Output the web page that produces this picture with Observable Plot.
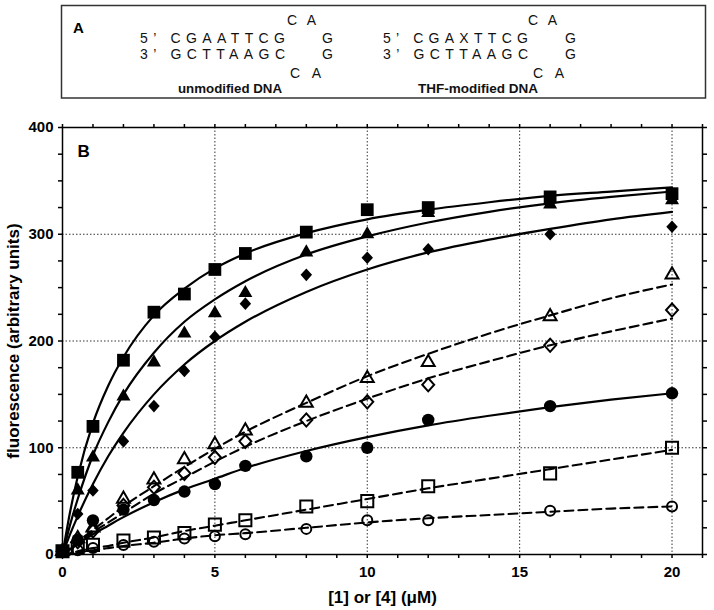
<!DOCTYPE html>
<html>
<head>
<meta charset="utf-8">
<script src="https://cdn.jsdelivr.net/npm/d3@7"></script>
<script src="https://cdn.jsdelivr.net/npm/@observablehq/plot@0.6"></script>
<style>
  html, body { margin: 0; padding: 0; background: #fff; }
  #wrap { position: relative; width: 714px; height: 610px; }
  #panelA { position: absolute; left: 0; top: 0; }
  #chart { position: absolute; left: 0; top: 0; }
</style>
</head>
<body>
<div id="wrap"><div id="chart"></div><svg id="panelA" width="714" height="105"></svg></div>
<script>
// ---- Measured data points (x in µM) ----
const xs = [0, 0.5, 1, 2, 3, 4, 5, 6, 8, 10, 12, 16, 20];
const filledSquare   = [3, 77, 120, 182, 227, 244, 267, 282, 302, 323, 325, 335, 338];
const filledTriangle = [3, 60, 91, 148, 180, 207, 226, 245, 283, 300, 320, 328, 332];
const filledDiamond  = [3, 38, 60, 106, 139, 172, 204, 235, 262, 278, 286, 300, 307];
const filledCircle   = [3, 14, 32, 42, 51, 59, 66, 83, 92, 100, 126, 139, 151];
const openTriangle   = [3, 15, 25, 52, 70, 89, 103, 116, 142, 165, 180, 223, 262];
const openDiamond    = [3, 12, 22, 46, 63, 76, 91, 106, 126, 143, 159, 196, 229];
const openSquare     = [3, 6, 9, 13, 16, 20, 28, 32, 45, 50, 64, 76, 100];
const openCircle     = [3, 4, 6, 9, 12, 15, 17, 19, 24, 32, 32, 41, 45];

// ---- Fitted curves ----
const fitX = [0, 0.25, 0.5, 1, 1.5, 2, 3, 4, 5, 6, 8, 10, 12, 14, 16, 18, 20];
const fitFilledSquare   = [0, 40, 73, 123, 158, 185, 224, 249, 268, 282, 301, 314, 323, 330, 336, 340, 344];
const fitFilledTriangle = [0, 28, 52, 93, 124, 150, 189, 218, 239, 256, 281, 298, 311, 321, 329, 335, 340];
const fitFilledDiamond  = [0, 19, 36, 66, 92, 114, 150, 178, 200, 218, 246, 267, 283, 295, 305, 314, 321];
const fitFilledCircle   = [0, 5, 10, 19, 27, 35, 49, 61, 71, 81, 97, 110, 121, 130, 138, 145, 151];
const fitOpenTriangle   = [0, 6, 12, 23, 34, 45, 64, 82, 99, 115, 142, 167, 188, 207, 224, 240, 253];
const fitOpenDiamond    = [0, 5, 11, 21, 30, 39, 57, 72, 87, 101, 125, 146, 165, 181, 196, 209, 221];
const fitOpenSquare     = [0, 1, 3, 6, 8, 11, 16, 22, 27, 32, 42, 52, 62, 71, 80, 89, 98];
const fitOpenCircle     = [0, 1, 2, 4, 6, 8, 11, 15, 18, 20, 25, 30, 34, 37, 40, 43, 45];

// ---- Ticks ----
const xMinorTicks = d3.range(0, 22, 1);
const xLabelTicks = [0, 5, 10, 15, 20];
const yMinorTicks = d3.range(0, 401, 25);
const yLabelTicks = [0, 100, 200, 300, 400];
const xGrid = [5, 10, 15, 20];
const yGrid = [100, 200, 300];

const xTitle = "[1] or [4] (\u03BCM)";
const yTitle = "fluorescence (arbitrary units)";
const panelLabel = "B";

// ---- Panel A texts ----
const seqTop5 = ["5\u2019 CGAATTCG", "5\u2019 CGAXTTCG"];
const seqBot3 = ["3\u2019 GCTTAAGC", "3\u2019 GCTTAAGC"];
const loopTop = ["C A", "C A"];
const loopBot = ["C A", "C A"];
const loopG = ["G", "G"];
const dnaNames = ["unmodified DNA", "THF-modified DNA"];

// ---- Build tidy tables ----
const pts = (vals, s) => xs.map((x, i) => ({x, y: vals[i], s}));
const fit = (vals, s) => fitX.map((x, i) => ({x, y: vals[i], s}));

const solidFits = [
  ...fit(fitFilledSquare, "fs"), ...fit(fitFilledTriangle, "ft"),
  ...fit(fitFilledDiamond, "fd"), ...fit(fitFilledCircle, "fc")
];
const dashedFits = [
  ...fit(fitOpenTriangle, "ot"), ...fit(fitOpenDiamond, "od"),
  ...fit(fitOpenSquare, "os"), ...fit(fitOpenCircle, "oc")
];

const diamond = {
  draw(ctx, size) {
    const a = Math.sqrt(size / 2.2), b = 1.1 * a;
    ctx.moveTo(0, -b); ctx.lineTo(a, 0); ctx.lineTo(0, b); ctx.lineTo(-a, 0); ctx.closePath();
  }
};

const filledOpts = {x: "x", y: "y", fill: "black", stroke: "none"};
const openOpts = {x: "x", y: "y", fill: "none", stroke: "black", strokeWidth: 2};

const chart = Plot.plot({
  width: 714,
  height: 610,
  marginTop: 127,
  marginLeft: 62,
  marginRight: 12,
  marginBottom: 56,
  style: {fontFamily: "'Liberation Sans', Arial, sans-serif", fontSize: "15px", fontWeight: "bold", color: "black", background: "white"},
  x: {domain: [0, 21]},
  y: {domain: [0, 400]},
  marks: [
    Plot.ruleX(xGrid, {stroke: "#333", strokeWidth: 1, strokeDasharray: "1.5,2"}),
    Plot.ruleY(yGrid, {stroke: "#333", strokeWidth: 1, strokeDasharray: "1.5,2"}),
    Plot.axisX(xMinorTicks, {anchor: "bottom", tickSize: 4, tickPadding: 8, strokeWidth: 1.5, label: null,
      tickFormat: d => xLabelTicks.includes(d) ? String(d) : ""}),
    Plot.axisX(xMinorTicks, {anchor: "top", tickSize: 4, strokeWidth: 1.5, label: null, tickFormat: () => ""}),
    Plot.axisY(yMinorTicks, {anchor: "left", tickSize: 4, tickPadding: 5, strokeWidth: 1.5, label: null,
      tickFormat: d => yLabelTicks.includes(d) ? String(d) : ""}),
    Plot.axisY(yMinorTicks, {anchor: "right", tickSize: 4, strokeWidth: 1.5, label: null, tickFormat: () => ""}),
    Plot.frame({stroke: "black", strokeWidth: 1.5}),
    Plot.line(solidFits, {x: "x", y: "y", z: "s", stroke: "black", strokeWidth: 2.2, curve: "monotone-x"}),
    Plot.line(dashedFits, {x: "x", y: "y", z: "s", stroke: "black", strokeWidth: 2.1, strokeDasharray: "9,5", curve: "monotone-x"}),
    Plot.dot(pts(openCircle, "oc"), {...openOpts, symbol: "circle", r: 5}),
    Plot.dot(pts(openSquare, "os"), {...openOpts, symbol: "square", r: 6.8}),
    Plot.dot(pts(openDiamond, "od"), {...openOpts, symbol: diamond, r: 5}),
    Plot.dot(pts(openTriangle, "ot"), {...openOpts, symbol: "triangle", r: 4.8}),
    Plot.dot(pts(filledCircle, "fc"), {...filledOpts, symbol: "circle", r: 6.2}),
    Plot.dot(pts(filledDiamond, "fd"), {...filledOpts, symbol: diamond, r: 4.8}),
    Plot.dot(pts(filledTriangle, "ft"), {...filledOpts, symbol: "triangle", r: 5.2}),
    Plot.dot(pts(filledSquare, "fs"), {...filledOpts, symbol: "square", r: 7.2}),
    Plot.text([yTitle], {frameAnchor: "left", dx: -49, rotate: -90, fontSize: 17, fontWeight: "bold", textAnchor: "middle", lineAnchor: "middle"}),
    Plot.text([xTitle], {frameAnchor: "bottom", dy: 43, fontSize: 17, fontWeight: "bold", textAnchor: "middle", lineAnchor: "middle"}),
    Plot.text([panelLabel], {frameAnchor: "top-left", dx: 15, dy: 24, fontSize: 17, fontWeight: "bold", textAnchor: "start", lineAnchor: "middle"})
  ]
});
document.getElementById("chart").appendChild(chart);

// ---- Panel A ----
const svgA = d3.select("#panelA");
svgA.append("rect").attr("x", 61.5).attr("y", 5.5).attr("width", 644).attr("height", 92.5)
  .attr("fill", "none").attr("stroke", "#333").attr("stroke-width", 1.5);
svgA.append("text").attr("x", 73).attr("y", 33).text("A")
  .attr("font-family", "'Liberation Sans', Arial, sans-serif").attr("font-weight", "bold").attr("font-size", 15);
const seqFont = "'Liberation Sans', Arial, sans-serif";
const offsets = [0, 243];
[0, 1].forEach(i => {
  const o = offsets[i];
  const t = (x, y, s, len, extra = {}) => {
    const el = svgA.append("text").attr("x", x + o).attr("y", y).text(s)
      .attr("font-family", extra.family || seqFont)
      .attr("font-size", extra.size || 14)
      .attr("font-weight", extra.weight || "normal")
      .attr("fill", "#111");
    if (len) el.attr("textLength", len).attr("lengthAdjust", extra.adjust || "spacing");
    return el;
  };
  t(287 + (i ? -2 : 0), 25, loopTop[i], 29);
  t(140, 43, seqTop5[i], 145);
  t(322, 43, loopG[i]);
  t(140, 59, seqBot3[i], 145);
  t(322, 59, loopG[i]);
  t(290, 78, loopBot[i], 31);
  t(i ? 175 : 178, 93, dnaNames[i], i ? 120 : 104,
    {family: "'Liberation Sans', Arial, sans-serif", size: 12.5, weight: "bold", adjust: "spacingAndGlyphs"});
});
</script>
</body>
</html>
